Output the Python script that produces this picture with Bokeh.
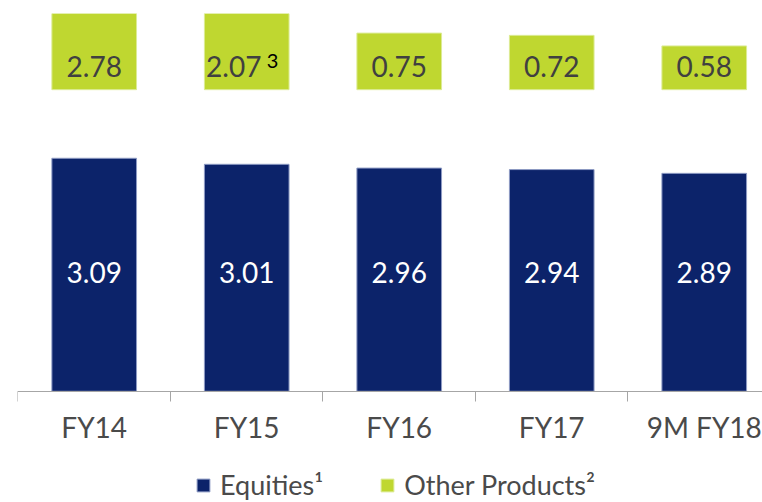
from bokeh.plotting import figure
from bokeh.models import Range1d, FixedTicker, Legend, LegendItem, ColumnDataSource
from bokeh.core.properties import value
from bokeh.embed import file_html
from bokeh.resources import INLINE

categories = ["FY14", "FY15", "FY16", "FY17", "9M FY18"]
equities = [3.09, 3.01, 2.96, 2.94, 2.89]
other_products = [2.78, 2.07, 0.75, 0.72, 0.58]
footnote_marks = ["", "3", "", "", ""]

BLUE = "#0C236A"
GREEN = "#BFD730"
FONT = "Lato"
BREAK = 4.0          # broken axis: "Other Products" bars start here
BAR_W = 0.555

xs = list(range(len(categories)))
eq_src = ColumnDataSource(dict(
    x=xs, top=equities,
    label=[f"{v:.2f}" for v in equities],
    ly=[1.576] * len(xs),
))
op_src = ColumnDataSource(dict(
    x=xs, bottom=[BREAK] * len(xs), top=[BREAK + v for v in other_products],
    label=[f"{v:.2f}" for v in other_products],
    ly=[BREAK + 0.31] * len(xs),
    xo=[-13 if m else 0 for m in footnote_marks],
))
fn_idx = [i for i, m in enumerate(footnote_marks) if m]
fn_src = ColumnDataSource(dict(
    x=[xs[i] for i in fn_idx],
    y=[BREAK + 0.31] * len(fn_idx),
    t=[footnote_marks[i] for i in fn_idx],
))

p = figure(width=762, height=502, output_backend="svg", toolbar_location=None,
           x_range=Range1d(-0.503, 4.382), y_range=Range1d(-1.475, 5.01),
           min_border_left=17, min_border_right=0, min_border_top=13,
           min_border_bottom=0)
p.outline_line_color = None
p.xgrid.visible = False
p.ygrid.visible = False
p.yaxis.visible = False
p.background_fill_color = "white"
p.border_fill_color = "white"

r_eq = p.vbar(x="x", top="top", bottom=0, width=BAR_W, source=eq_src,
              fill_color=BLUE, line_color="#8E9BC4", line_width=1)
r_op = p.vbar(x="x", top="top", bottom="bottom", width=BAR_W, source=op_src,
              fill_color=GREEN, line_color="#DCEB95", line_width=1)

p.text(x="x", y="ly", text="label", source=eq_src, text_align="center",
       text_baseline="alphabetic", text_color="white",
       text_font=value(FONT), text_font_size="28px")
p.text(x="x", y="ly", text="label", x_offset="xo", source=op_src,
       text_align="center", text_baseline="alphabetic", text_color="#404040",
       text_font=value(FONT), text_font_size="28px")
p.text(x="x", y="y", text="t", source=fn_src, x_offset=20, y_offset=-5,
       text_align="left", text_baseline="alphabetic", text_color="black",
       text_font=value(FONT), text_font_size="20px")

ax = p.xaxis[0]
ax.fixed_location = 0
ax.ticker = FixedTicker(ticks=xs, minor_ticks=[i - 0.5 for i in range(len(xs) + 1)])
ax.major_label_overrides = {i: c for i, c in enumerate(categories)}
ax.major_tick_line_color = None
ax.major_tick_out = 0
ax.major_tick_in = 0
ax.minor_tick_line_color = "#A6A6A6"
ax.minor_tick_out = 10
ax.minor_tick_in = 0
ax.axis_line_color = "#A6A6A6"
ax.axis_line_width = 1
ax.major_label_standoff = 9
ax.major_label_text_font = FONT
ax.major_label_text_font_size = "28px"
ax.major_label_text_color = "#4A4A4A"

legend = Legend(items=[LegendItem(label="Equities\u00b9", renderers=[r_eq]),
                       LegendItem(label="Other Products\u00b2", renderers=[r_op])],
                orientation="horizontal", location=(178, 1),
                label_text_font=FONT, label_text_font_size="27px",
                label_text_color="#4A4A4A", glyph_width=16, glyph_height=16,
                label_standoff=9, spacing=56, border_line_color=None,
                background_fill_alpha=0, padding=0, margin=0)
p.add_layout(legend)

open("out.html", "w").write(file_html(p, INLINE))
